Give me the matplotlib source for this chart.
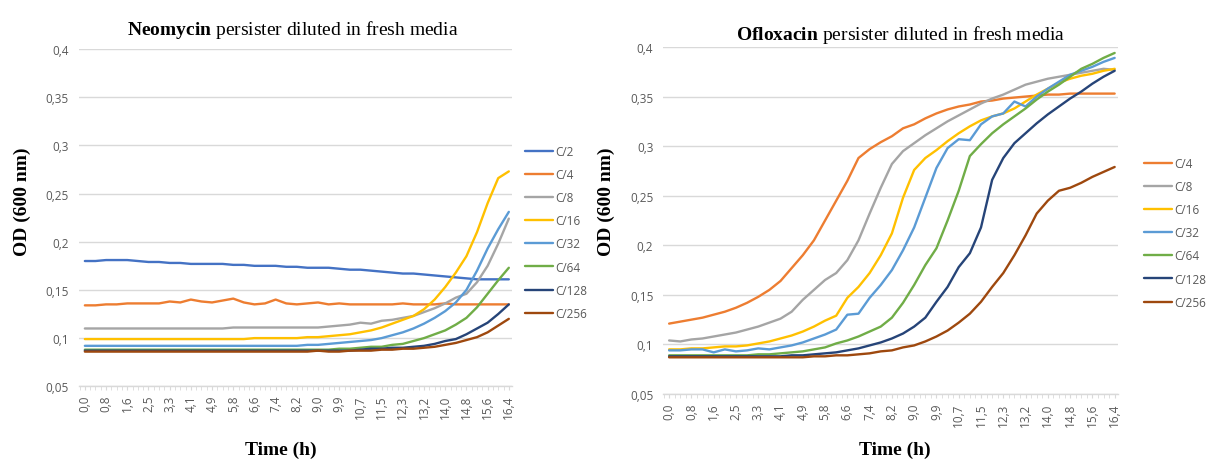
import matplotlib
matplotlib.use("Agg")
import matplotlib.pyplot as plt
from matplotlib.ticker import FixedLocator, MultipleLocator

time_labels = ["0,0", "0,8", "1,6", "2,5", "3,3", "4,1", "4,9", "5,8", "6,6", "7,4", "8,2",
               "9,0", "9,9", "10,7", "11,5", "12,3", "13,2", "14,0", "14,8", "15,6", "16,4"]
y_ticks = [0.05, 0.1, 0.15, 0.2, 0.25, 0.3, 0.35, 0.4]
y_tick_labels = ["0,05", "0,1", "0,15", "0,2", "0,25", "0,3", "0,35", "0,4"]

# Neomycin panel (41 samples, two per labelled time step)
neo_c2 = [0.180, 0.180, 0.181, 0.181, 0.181, 0.180, 0.179, 0.179, 0.178, 0.178,
          0.177, 0.177, 0.177, 0.177, 0.176, 0.176, 0.175, 0.175, 0.175, 0.174,
          0.174, 0.173, 0.173, 0.173, 0.172, 0.171, 0.171, 0.170, 0.169, 0.168,
          0.167, 0.167, 0.166, 0.165, 0.164, 0.163, 0.162, 0.161, 0.161, 0.161, 0.161]
neo_c4 = [0.134, 0.134, 0.135, 0.135, 0.136, 0.136, 0.136, 0.136, 0.138, 0.137,
          0.140, 0.138, 0.137, 0.139, 0.141, 0.137, 0.135, 0.136, 0.140, 0.136,
          0.135, 0.136, 0.137, 0.135, 0.136, 0.135, 0.135, 0.135, 0.135, 0.135,
          0.136, 0.135, 0.135, 0.135, 0.136, 0.135, 0.135, 0.135, 0.135, 0.135, 0.135]
neo_c8 = [0.110, 0.110, 0.110, 0.110, 0.110, 0.110, 0.110, 0.110, 0.110, 0.110,
          0.110, 0.110, 0.110, 0.110, 0.111, 0.111, 0.111, 0.111, 0.111, 0.111,
          0.111, 0.111, 0.111, 0.112, 0.113, 0.114, 0.116, 0.115, 0.118, 0.119,
          0.121, 0.123, 0.127, 0.131, 0.136, 0.142, 0.146, 0.158, 0.175, 0.198, 0.224]
neo_c16 = [0.099, 0.099, 0.099, 0.099, 0.099, 0.099, 0.099, 0.099, 0.099, 0.099,
           0.099, 0.099, 0.099, 0.099, 0.099, 0.099, 0.100, 0.100, 0.100, 0.100,
           0.100, 0.101, 0.101, 0.102, 0.103, 0.104, 0.106, 0.108, 0.111, 0.115,
           0.119, 0.123, 0.130, 0.140, 0.153, 0.168, 0.185, 0.210, 0.240, 0.266, 0.273]
neo_c32 = [0.092, 0.092, 0.092, 0.092, 0.092, 0.092, 0.092, 0.092, 0.092, 0.092,
           0.092, 0.092, 0.092, 0.092, 0.092, 0.092, 0.092, 0.092, 0.092, 0.092,
           0.092, 0.093, 0.093, 0.094, 0.095, 0.096, 0.097, 0.098, 0.100, 0.103,
           0.106, 0.110, 0.115, 0.121, 0.128, 0.137, 0.150, 0.170, 0.193, 0.213, 0.231]
neo_c64 = [0.088, 0.088, 0.088, 0.088, 0.088, 0.088, 0.088, 0.088, 0.088, 0.088,
           0.088, 0.088, 0.088, 0.088, 0.088, 0.088, 0.088, 0.088, 0.088, 0.088,
           0.088, 0.088, 0.088, 0.088, 0.089, 0.089, 0.090, 0.091, 0.091, 0.093,
           0.094, 0.097, 0.100, 0.104, 0.108, 0.114, 0.121, 0.132, 0.146, 0.160, 0.173]
neo_c128 = [0.087, 0.087, 0.087, 0.087, 0.087, 0.087, 0.087, 0.087, 0.087, 0.087,
            0.087, 0.087, 0.087, 0.087, 0.087, 0.087, 0.087, 0.087, 0.087, 0.087,
            0.087, 0.087, 0.087, 0.087, 0.087, 0.087, 0.088, 0.089, 0.089, 0.090,
            0.090, 0.091, 0.092, 0.094, 0.097, 0.099, 0.104, 0.110, 0.116, 0.125, 0.135]
neo_c256 = [0.086, 0.086, 0.086, 0.086, 0.086, 0.086, 0.086, 0.086, 0.086, 0.086,
            0.086, 0.086, 0.086, 0.086, 0.086, 0.086, 0.086, 0.086, 0.086, 0.086,
            0.086, 0.086, 0.087, 0.086, 0.086, 0.087, 0.087, 0.087, 0.088, 0.088,
            0.089, 0.089, 0.090, 0.091, 0.093, 0.095, 0.098, 0.101, 0.106, 0.113, 0.120]

# Ofloxacin panel
ofl_c4 = [0.121, 0.123, 0.125, 0.127, 0.130, 0.133, 0.137, 0.142, 0.148, 0.155,
          0.164, 0.177, 0.190, 0.205, 0.225, 0.245, 0.265, 0.288, 0.297, 0.304,
          0.310, 0.318, 0.322, 0.328, 0.333, 0.337, 0.340, 0.342, 0.345, 0.346,
          0.348, 0.349, 0.350, 0.351, 0.352, 0.352, 0.353, 0.353, 0.353, 0.353, 0.353]
ofl_c8 = [0.104, 0.103, 0.105, 0.106, 0.108, 0.110, 0.112, 0.115, 0.118, 0.122,
          0.126, 0.133, 0.145, 0.155, 0.165, 0.172, 0.185, 0.205, 0.232, 0.258,
          0.282, 0.295, 0.303, 0.311, 0.318, 0.325, 0.331, 0.337, 0.343, 0.348,
          0.352, 0.357, 0.362, 0.365, 0.368, 0.370, 0.372, 0.374, 0.376, 0.378, 0.377]
ofl_c16 = [0.095, 0.095, 0.096, 0.096, 0.097, 0.098, 0.098, 0.099, 0.101, 0.103,
           0.106, 0.109, 0.113, 0.118, 0.124, 0.129, 0.147, 0.158, 0.172, 0.190,
           0.212, 0.248, 0.276, 0.288, 0.296, 0.305, 0.313, 0.320, 0.326, 0.330,
           0.333, 0.338, 0.345, 0.352, 0.358, 0.364, 0.368, 0.371, 0.373, 0.376, 0.378]
ofl_c32 = [0.094, 0.094, 0.095, 0.095, 0.092, 0.095, 0.093, 0.094, 0.096, 0.095,
           0.097, 0.099, 0.102, 0.106, 0.110, 0.115, 0.130, 0.131, 0.147, 0.160,
           0.175, 0.195, 0.218, 0.248, 0.278, 0.298, 0.307, 0.306, 0.322, 0.330,
           0.333, 0.345, 0.340, 0.350, 0.358, 0.365, 0.372, 0.376, 0.380, 0.385, 0.389]
ofl_c64 = [0.089, 0.089, 0.089, 0.089, 0.089, 0.089, 0.089, 0.089, 0.090, 0.090,
           0.091, 0.092, 0.093, 0.095, 0.097, 0.101, 0.104, 0.108, 0.113, 0.118,
           0.127, 0.142, 0.160, 0.180, 0.197, 0.225, 0.255, 0.290, 0.302, 0.313,
           0.322, 0.330, 0.338, 0.347, 0.355, 0.362, 0.370, 0.378, 0.383, 0.389, 0.394]
ofl_c128 = [0.088, 0.088, 0.088, 0.088, 0.088, 0.088, 0.088, 0.088, 0.088, 0.088,
            0.088, 0.089, 0.089, 0.090, 0.091, 0.092, 0.094, 0.096, 0.099, 0.102,
            0.106, 0.111, 0.118, 0.127, 0.143, 0.158, 0.178, 0.192, 0.218, 0.266,
            0.288, 0.303, 0.313, 0.323, 0.332, 0.340, 0.348, 0.355, 0.363, 0.370, 0.376]
ofl_c256 = [0.087, 0.087, 0.087, 0.087, 0.087, 0.087, 0.087, 0.087, 0.087, 0.087,
            0.087, 0.087, 0.087, 0.088, 0.088, 0.089, 0.089, 0.090, 0.091, 0.093,
            0.094, 0.097, 0.099, 0.103, 0.108, 0.114, 0.122, 0.131, 0.143, 0.158,
            0.172, 0.190, 0.210, 0.232, 0.245, 0.255, 0.258, 0.263, 0.269, 0.274, 0.279]

neo_labels = ["C/2", "C/4", "C/8", "C/16", "C/32", "C/64", "C/128", "C/256"]
neo_series = [neo_c2, neo_c4, neo_c8, neo_c16, neo_c32, neo_c64, neo_c128, neo_c256]
ofl_labels = ["C/4", "C/8", "C/16", "C/32", "C/64", "C/128", "C/256"]
ofl_series = [ofl_c4, ofl_c8, ofl_c16, ofl_c32, ofl_c64, ofl_c128, ofl_c256]

colors = {"C/2": "#4472C4", "C/4": "#ED7D31", "C/8": "#A5A5A5", "C/16": "#FFC000",
          "C/32": "#5B9BD5", "C/64": "#70AD47", "C/128": "#264478", "C/256": "#9E480E"}

plt.rcParams['mathtext.fontset'] = 'custom'
plt.rcParams['mathtext.rm'] = 'Liberation Serif'
plt.rcParams['mathtext.bf'] = 'Liberation Serif:bold'

W, H = 1206, 460
fig = plt.figure(figsize=(W / 100, H / 100), dpi=100)

tick_color = "#595959"
grid_color = "#D9D9D9"
tick_font = "Open Sans"


def px_rect(x0, x1, ytop, ybot):
    return [x0 / W, 1 - ybot / H, (x1 - x0) / W, (ybot - ytop) / H]


def setup(ax, xlim):
    n = len(time_labels)
    ax.set_xlim(*xlim)
    ax.set_ylim(0.05, 0.4)
    ax.set_yticks(y_ticks)
    ax.set_yticklabels(y_tick_labels)
    ax.xaxis.set_major_locator(FixedLocator([2 * i for i in range(n)]))
    ax.set_xticklabels(time_labels, rotation=90)
    ax.xaxis.set_minor_locator(MultipleLocator(0.5))
    for s in ["top", "right", "left"]:
        ax.spines[s].set_visible(False)
    ax.spines["bottom"].set_color(grid_color)
    ax.spines["bottom"].set_linewidth(1.0)
    ax.grid(axis="y", color=grid_color, linewidth=1.0)
    ax.set_axisbelow(True)
    ax.tick_params(axis="y", length=0, pad=7, labelsize=8.5, labelcolor=tick_color)
    ax.tick_params(axis="x", which="both", length=3, color=grid_color, pad=3,
                   labelsize=8.5, labelcolor=tick_color)
    for lab in ax.get_xticklabels() + ax.get_yticklabels():
        lab.set_fontfamily(tick_font)


x_idx = list(range(len(neo_c2)))

ax1 = fig.add_axes(px_rect(78.5, 512, 50, 387.3))
setup(ax1, (-0.6, 40.3))
for lab, ser in zip(neo_labels, neo_series):
    ax1.plot(x_idx, ser, color=colors[lab], lw=1.7, label=lab, solid_capstyle="round")

ax2 = fig.add_axes(px_rect(663, 1118, 48, 395))
setup(ax2, (-0.55, 40.3))
for lab, ser in zip(ofl_labels, ofl_series):
    ax2.plot(x_idx, ser, color=colors[lab], lw=1.7, label=lab, solid_capstyle="round")

leg_kw = dict(loc="center left", frameon=False, handlelength=2.4, handletextpad=0.15,
              labelspacing=0.86, borderpad=0, borderaxespad=0,
              prop={"family": tick_font, "size": 8.5}, labelcolor=tick_color)
ax1.legend(bbox_to_anchor=(525 / W, 1 - 233.4 / H), bbox_transform=fig.transFigure, **leg_kw)
ax2.legend(bbox_to_anchor=(1144 / W, 1 - 233.7 / H), bbox_transform=fig.transFigure, **leg_kw)

serif = "Liberation Serif"
fig.text(293 / W, 1 - 30 / H, r"$\mathbf{Neomycin}$ persister diluted in fresh media",
         ha="center", va="center", fontsize=14, family=serif)
fig.text(901 / W, 1 - 35 / H, r"$\mathbf{Ofloxacin}$ persister diluted in fresh media",
         ha="center", va="center", fontsize=14, family=serif)

for xc in (22, 606):
    fig.text(xc / W, 1 - 202 / H, "OD (600 nm)", rotation=90, ha="center", va="center",
             fontsize=14, fontweight="bold", family=serif)
for xc in (281, 895):
    fig.text(xc / W, 1 - 450 / H, "Time (h)", ha="center", va="center",
             fontsize=14, fontweight="bold", family=serif)

fig.savefig("out.png", dpi=100)
